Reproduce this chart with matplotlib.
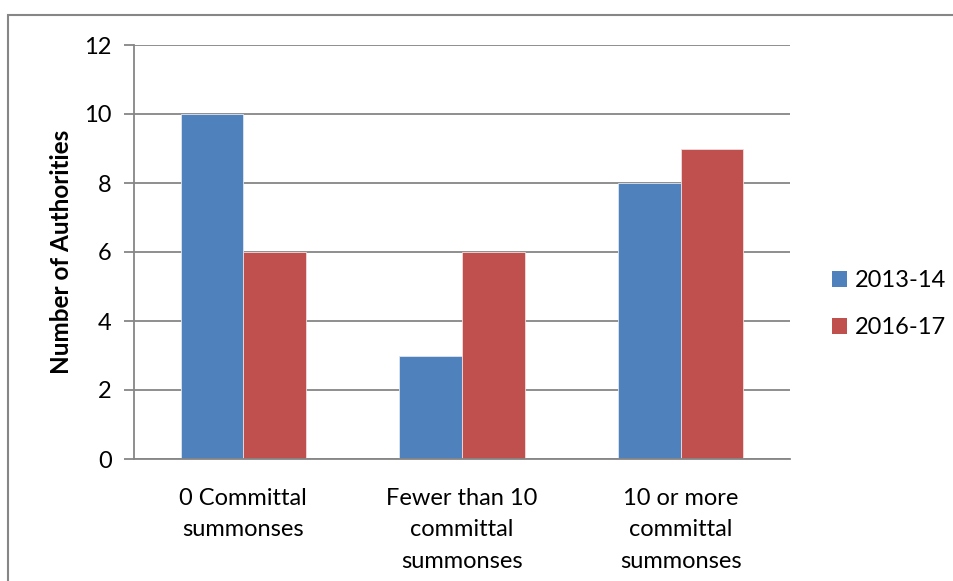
import matplotlib
matplotlib.use("Agg")
import matplotlib.pyplot as plt
from matplotlib.patches import Rectangle, Patch
import numpy as np

categories = ["0 Committal\nsummonses", "Fewer than 10\ncommittal\nsummonses", "10 or more\ncommittal\nsummonses"]
series_names = ["2013-14", "2016-17"]
values_2013 = [10, 3, 8]
values_2016 = [6, 6, 9]
yticks = [0, 2, 4, 6, 8, 10, 12]

colors = ["#4F81BD", "#C0504D"]
grid_c = "#868686"
plt.rcParams['font.family'] = ['Lato', 'DejaVu Sans']

W, H = 954, 581
fig = plt.figure(figsize=(W/100, H/100), dpi=100)
ax = fig.add_axes([134/W, 1-459/H, (790-134)/W, (459-45)/H])

x = np.arange(len(categories))
bw = 0.286
ax.bar(x - bw/2, values_2013, bw, color=colors[0], edgecolor="#dfe6f0", linewidth=0.6, zorder=3, label=series_names[0])
ax.bar(x + bw/2, values_2016, bw, color=colors[1], edgecolor="#f0dcdc", linewidth=0.6, zorder=3, label=series_names[1])

ax.set_xlim(-0.5, 2.5)
ax.set_ylim(0, 12)
ax.set_yticks(yticks)
ax.set_yticklabels([str(v) for v in yticks], fontsize=17)
ax.set_xticks(x)
ax.set_xticklabels(categories, fontsize=17, linespacing=1.6)
ax.tick_params(axis='x', length=0, pad=21)
ax.tick_params(axis='y', length=7, width=1.3, color=grid_c, pad=9)
ax.yaxis.grid(True, color=grid_c, linewidth=1.3, zorder=0)
ax.set_axisbelow(True)
for s in ["top", "right"]:
    ax.spines[s].set_visible(False)
for s in ["left", "bottom"]:
    ax.spines[s].set_color(grid_c)
    ax.spines[s].set_linewidth(1.3)
ax.spines["bottom"].set_zorder(4)

fig.text(62/W, 1-252/H, "Number of Authorities", fontsize=17.5, fontweight="bold",
         rotation=90, ha="center", va="center")

handles = [Patch(facecolor=colors[0]), Patch(facecolor=colors[1])]
fig.legend(handles, series_names, loc="center left", bbox_to_anchor=(832/W, 1-304/H),
           frameon=False, fontsize=17, handlelength=0.65, handleheight=0.65,
           handletextpad=0.3, labelspacing=1.1, borderaxespad=0, borderpad=0)

fig.add_artist(Rectangle((8/W, -0.1), 1.2, 1 - 14.5/H + 0.1, transform=fig.transFigure,
                         fill=False, edgecolor=grid_c, linewidth=1.5))

fig.savefig("out.png", dpi=100)
